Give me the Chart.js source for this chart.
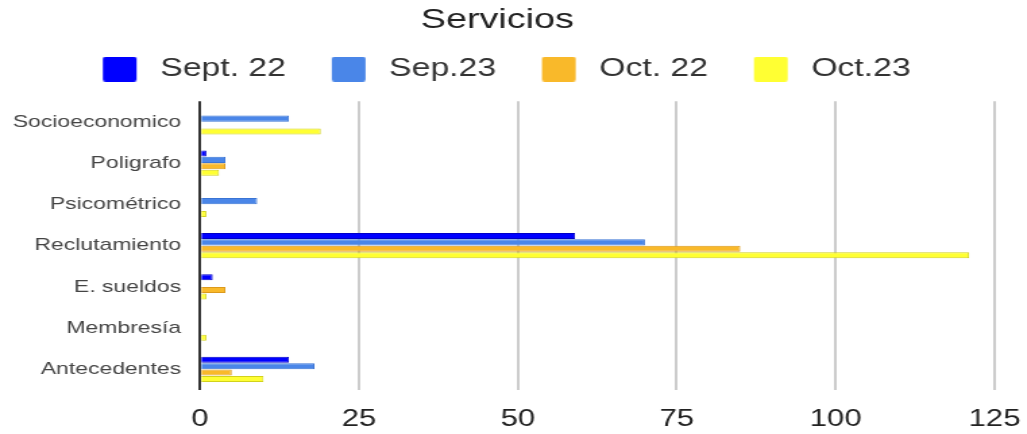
<!DOCTYPE html>
<html>
<head>
<meta charset="utf-8">
<script src="https://cdn.jsdelivr.net/npm/chart.js@4/dist/chart.umd.min.js"></script>
<style>
  html, body { margin: 0; padding: 0; background: #fff; overflow: hidden; }
  /* the reference is stretched sideways, so draw narrow and widen */
  #wrap { width: 761px; height: 434px; transform: scaleX(1.3495); transform-origin: 0 0; }
</style>
</head>
<body>
<div id="wrap"><canvas id="chart"></canvas></div>
<script>
const categorias = ['Socioeconomico', 'Poligrafo', 'Psicométrico', 'Reclutamiento', 'E. sueldos', 'Membresía', 'Antecedentes'];
const series = ['Sept. 22', 'Sep.23', 'Oct. 22', 'Oct.23'];
const sept22 = [0, 1, 0, 59, 2, 0, 14];
const sep23 = [14, 4, 9, 70, 0, 0, 18];
const oct22 = [0, 4, 0, 85, 4, 0, 5];
const oct23 = [19, 3, 1, 121, 1, 1, 10];
const ticksX = [0, 25, 50, 75, 100, 125];

const colores = ['#0000ff', '#4a86e8', '#f9b92a', '#ffff33'];
const bordes = ['#0000c8', '#3a74d4', '#dc9a1c', '#d2d21c'];

Chart.defaults.font.family = '"Liberation Sans", Arial, sans-serif';

// legend boxes: small canvases with a bit of empty room on the left
function cajaLeyenda(color) {
    const c = document.createElement('canvas');
    c.width = 44;
    c.height = 25;
    const g = c.getContext('2d');
    g.fillStyle = color;
    g.beginPath();
    g.roundRect(14, 0, 25, 25, 2);
    g.fill();
    return c;
}
const cajas = colores.map(cajaLeyenda);

const valores = [sept22, sep23, oct22, oct23];

const ctx = document.querySelector('#chart').getContext('2d');
const chart = new Chart(ctx, {
    type: 'bar',
    data: {
        labels: categorias,
        datasets: series.map((s, i) => ({
            label: s,
            data: valores[i],
            backgroundColor: colores[i],
            borderColor: bordes[i],
            borderWidth: 1,
            categoryPercentage: 0.62,
            barPercentage: 0.95
        }))
    },
    options: {
        indexAxis: 'y',
        responsive: true,
        maintainAspectRatio: false,
        animation: false,
        layout: { padding: { top: 0, right: 24, bottom: 0, left: 0 } },
        scales: {
            x: {
                min: 0,
                max: 125,
                afterBuildTicks: s => { s.ticks = ticksX.map(v => ({ value: v })); },
                afterFit: s => { s.height = 44; s.paddingLeft = 0; s.paddingRight = 0; },
                ticks: { color: '#222', font: { size: 23 }, padding: 16 },
                grid: {
                    drawTicks: false,
                    color: c => (c.tick && c.tick.value === 0) ? '#333' : '#cccccc',
                    lineWidth: 2
                },
                border: { display: false }
            },
            y: {
                afterFit: s => { s.width = 148.2; },
                ticks: { color: '#444', font: { size: 17 }, padding: 6 },
                grid: { display: false },
                border: { display: false }
            }
        },
        plugins: {
            title: {
                display: true,
                text: 'Servicios',
                color: '#222',
                font: { size: 28, weight: 'normal' },
                padding: { top: 3, bottom: 0 }
            },
            subtitle: {
                // empty spacer between legend and plot
                display: true,
                text: '',
                weight: 100,
                font: { size: 8 },
                padding: 0
            },
            legend: {
                position: 'top',
                labels: {
                    usePointStyle: true,
                    pointStyleWidth: 44,
                    boxHeight: 25,
                    padding: 20,
                    color: '#333',
                    font: { size: 25 },
                    generateLabels: c => {
                        const items = Chart.defaults.plugins.legend.labels.generateLabels(c);
                        items.forEach((it, i) => { it.pointStyle = cajas[i]; });
                        return items;
                    }
                }
            },
            tooltip: { enabled: false }
        }
    }
});
</script>
</body>
</html>
